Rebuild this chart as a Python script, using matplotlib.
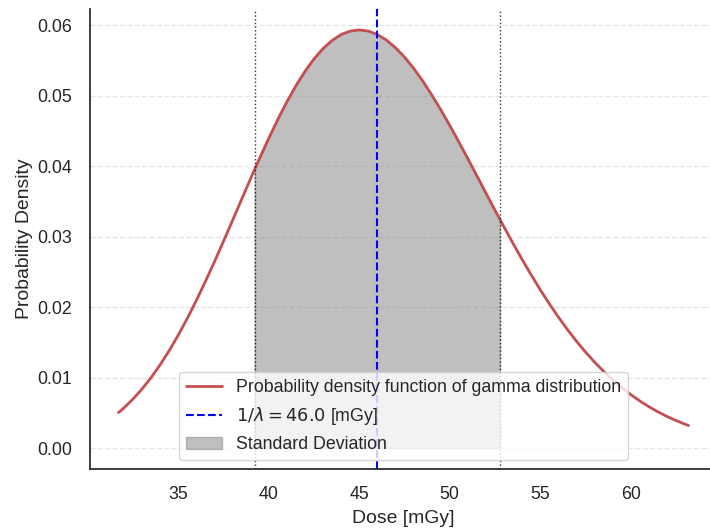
import numpy as np
import matplotlib
matplotlib.use('Agg')
import matplotlib.pyplot as plt
import seaborn as sns

# values
dose = [31.7, 32, 32.5, 33, 33.5, 34, 34.5, 35, 35.5, 36, 36.5, 37, 37.5,
        38, 38.5, 39, 39.22, 39.5, 40, 40.5, 41, 41.5, 42, 42.5, 43, 43.5,
        44, 44.5, 45, 45.5, 46, 46.5, 47, 47.5, 48, 48.5, 49, 49.5, 50,
        50.5, 51, 51.5, 52, 52.5, 52.78, 53, 53.5, 54, 54.5, 55, 55.5, 56,
        56.5, 57, 57.5, 58, 58.5, 59, 59.5, 60, 60.5, 61, 61.5, 62, 62.5,
        63, 63.2]
density = [0.00504, 0.00571, 0.00696, 0.00839, 0.01001, 0.01182, 0.01383,
           0.01603, 0.01841, 0.02096, 0.02364, 0.02645, 0.02935, 0.03231,
           0.03529, 0.03826, 0.03955, 0.04116, 0.04397, 0.04665, 0.04914,
           0.05143, 0.05347, 0.05524, 0.05671, 0.05787, 0.05871, 0.05920,
           0.05937, 0.05921, 0.05872, 0.05794, 0.05686, 0.05553, 0.05395,
           0.05216, 0.05019, 0.04808, 0.04584, 0.04350, 0.04111, 0.03868,
           0.03623, 0.03380, 0.03246, 0.03141, 0.02907, 0.02680, 0.02461,
           0.02251, 0.02052, 0.01863, 0.01686, 0.01520, 0.01366, 0.01223,
           0.01092, 0.00971, 0.00861, 0.00761, 0.00671, 0.00589, 0.00516,
           0.00450, 0.00392, 0.00340, 0.00321]
mean_dose = 46.0
std_low = 39.22
std_high = 52.78

sns.set_style('white')
sns.set_context('notebook', font_scale=1.16)
plt.rcParams['font.family'] = ['Liberation Sans', 'DejaVu Sans']
plt.rcParams['xtick.major.pad'] = 6.5
plt.rcParams['ytick.major.pad'] = 7

fig = plt.figure(figsize=(7.1, 5.3), dpi=100)
ax = fig.add_axes([90 / 710, 1 - 469 / 530, 627 / 710, 460 / 530])

x = np.array(dose)
y = np.array(density)

ax.plot(x, y, color='#C44E52', lw=2, label='Probability density function of gamma distribution')
ax.axvline(mean_dose, color='blue', ls='--', lw=1.5, label=r'$1/\lambda = %.1f$ [mGy]' % mean_dose)
ax.axvline(std_low, color='k', ls=':', lw=1, alpha=0.8)
ax.axvline(std_high, color='k', ls=':', lw=1, alpha=0.8)
mask = (x >= std_low) & (x <= std_high)
ax.fill_between(x, y, where=mask, color='gray', alpha=0.5, label='Standard Deviation')

ax.set_xlabel('Dose [mGy]', labelpad=5)
ax.set_ylabel('Probability Density', labelpad=3)
ax.grid(axis='y', ls='--', alpha=0.5)
for s in ['top', 'right']:
    ax.spines[s].set_visible(False)
ax.legend(loc='lower center')

fig.savefig('out.png', dpi=100)
